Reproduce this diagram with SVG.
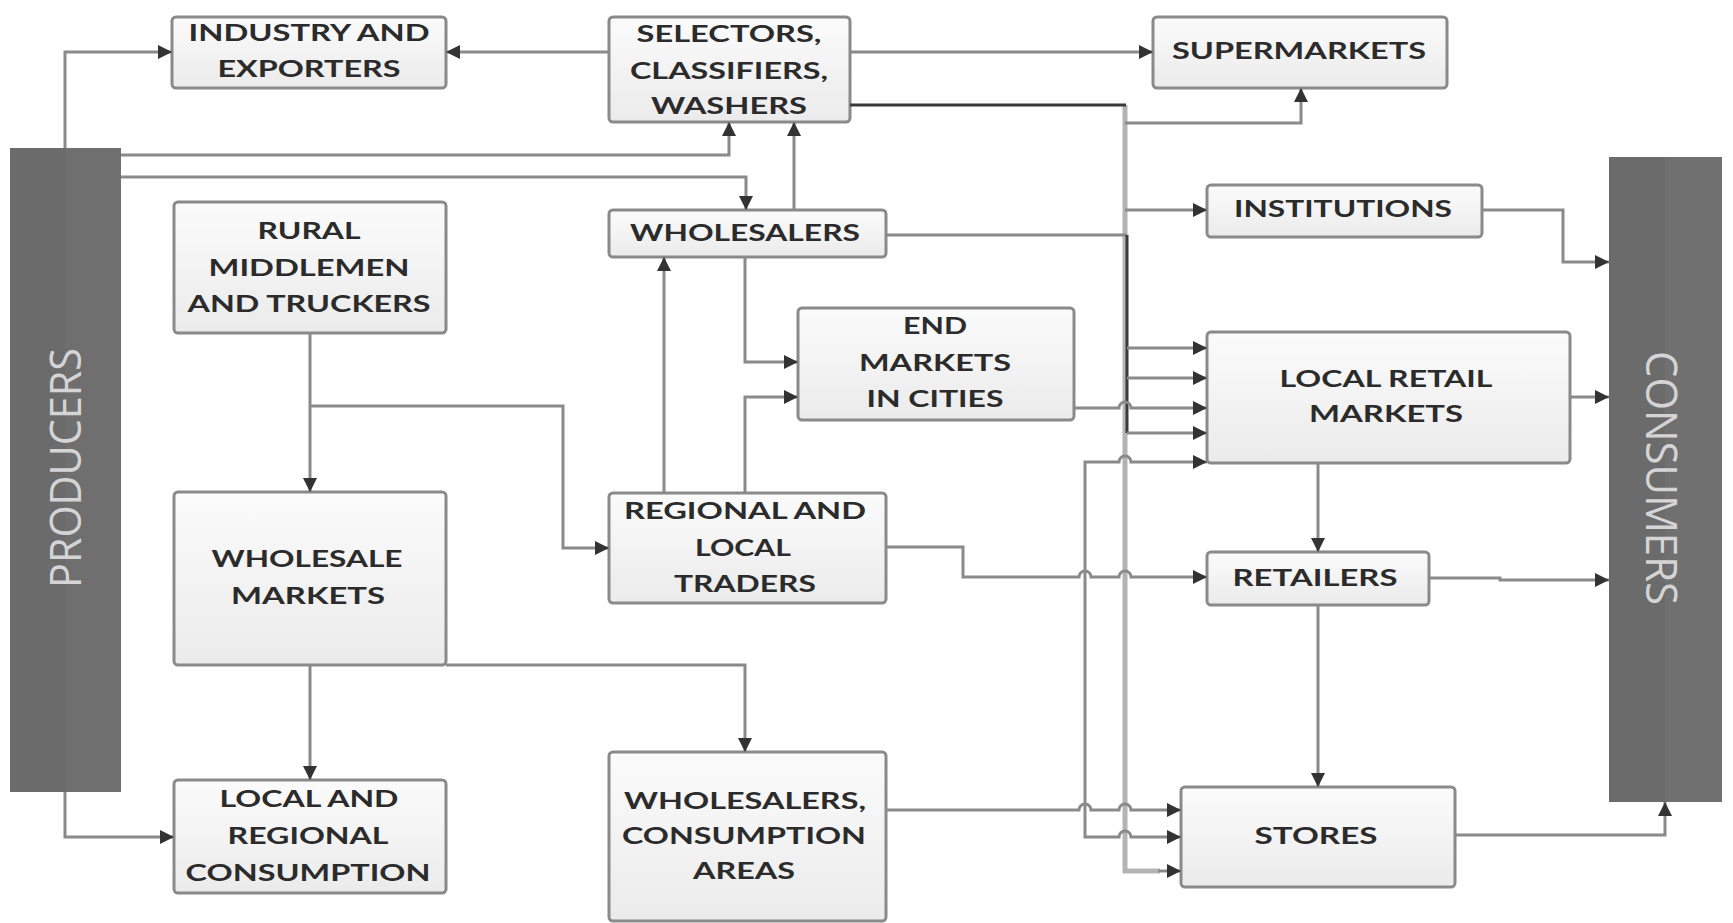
<svg xmlns="http://www.w3.org/2000/svg" width="1733" height="923" viewBox="0 0 1733 923">
<defs>
<linearGradient id="boxg" x1="0" y1="0" x2="0" y2="1">
<stop offset="0" stop-color="#fbfbfb"/>
<stop offset="1" stop-color="#ebebeb"/>
</linearGradient>
<marker id="arr" viewBox="0 0 10 10" refX="10" refY="5" markerWidth="17" markerHeight="14" markerUnits="userSpaceOnUse" orient="auto">
<path d="M0,0 L10,5 L0,10 z" fill="#333"/>
</marker>
<style>
.box{fill:url(#boxg);stroke:#8a8a8a;stroke-width:3}
.t{font-family:Lato,'Liberation Sans',sans-serif;font-weight:700;font-size:22px;fill:#2b2b2b;text-anchor:middle}
.bar{fill:#6b6b6b}
.bar2{fill:#777777}
.bt{font-family:'Open Sans','Liberation Sans',sans-serif;font-size:44px;fill:#d4d4d4;text-anchor:middle}
.c{fill:none;stroke:#8a8a8a;stroke-width:3}
.cd{fill:none;stroke:#3a3a3a;stroke-width:3}
.trunk{fill:none;stroke:#b4b4b4;stroke-width:5}
.a{marker-end:url(#arr)}
</style>
</defs>
<rect width="1733" height="923" fill="#ffffff"/>

<g id="producers">
<rect class="bar" x="10" y="148" width="111" height="644"/>
<rect class="bar2" x="65" y="148" width="56" height="644" opacity="0.35"/>
<text class="bt" transform="translate(81,468) rotate(-90)" textLength="240" lengthAdjust="spacingAndGlyphs">PRODUCERS</text>
</g>
<g id="consumers">
<rect class="bar" x="1609" y="157" width="113" height="645"/>
<rect class="bar2" x="1665" y="157" width="57" height="645" opacity="0.45"/>
<text class="bt" transform="translate(1646,478) rotate(90)" textLength="254" lengthAdjust="spacingAndGlyphs">CONSUMERS</text>
</g>

<g id="industry">
<rect class="box" x="172" y="17" width="274" height="71" rx="4"/>
<text class="t" x="309" y="41" textLength="241" lengthAdjust="spacingAndGlyphs">INDUSTRY AND</text>
<text class="t" x="309" y="77" textLength="183" lengthAdjust="spacingAndGlyphs">EXPORTERS</text>
</g>
<g id="selectors">
<rect class="box" x="609" y="17" width="241" height="105" rx="4"/>
<text class="t" x="729" y="42" textLength="185" lengthAdjust="spacingAndGlyphs">SELECTORS,</text>
<text class="t" x="729" y="79" textLength="198" lengthAdjust="spacingAndGlyphs">CLASSIFIERS,</text>
<text class="t" x="729" y="114" textLength="156" lengthAdjust="spacingAndGlyphs">WASHERS</text>
</g>
<g id="supermarkets">
<rect class="box" x="1153" y="17" width="294" height="71" rx="4"/>
<text class="t" x="1299" y="59" textLength="254" lengthAdjust="spacingAndGlyphs">SUPERMARKETS</text>
</g>
<g id="rural">
<rect class="box" x="174" y="202" width="272" height="131" rx="4"/>
<text class="t" x="309" y="239" textLength="103" lengthAdjust="spacingAndGlyphs">RURAL</text>
<text class="t" x="309" y="276" textLength="201" lengthAdjust="spacingAndGlyphs">MIDDLEMEN</text>
<text class="t" x="309" y="312" textLength="243" lengthAdjust="spacingAndGlyphs">AND TRUCKERS</text>
</g>
<g id="wholesalers">
<rect class="box" x="609" y="210" width="277" height="47" rx="4"/>
<text class="t" x="745" y="241" textLength="230" lengthAdjust="spacingAndGlyphs">WHOLESALERS</text>
</g>
<g id="institutions">
<rect class="box" x="1207" y="185" width="275" height="52" rx="4"/>
<text class="t" x="1343" y="217" textLength="218" lengthAdjust="spacingAndGlyphs">INSTITUTIONS</text>
</g>
<g id="endmarkets">
<rect class="box" x="798" y="308" width="276" height="112" rx="4"/>
<text class="t" x="935" y="334" textLength="64" lengthAdjust="spacingAndGlyphs">END</text>
<text class="t" x="935" y="371" textLength="152" lengthAdjust="spacingAndGlyphs">MARKETS</text>
<text class="t" x="935" y="407" textLength="137" lengthAdjust="spacingAndGlyphs">IN CITIES</text>
</g>
<g id="localretail">
<rect class="box" x="1207" y="332" width="363" height="131" rx="4"/>
<text class="t" x="1386" y="387" textLength="213" lengthAdjust="spacingAndGlyphs">LOCAL RETAIL</text>
<text class="t" x="1386" y="422" textLength="154" lengthAdjust="spacingAndGlyphs">MARKETS</text>
</g>
<g id="wholesalemarkets">
<rect class="box" x="174" y="492" width="272" height="173" rx="4"/>
<text class="t" x="307" y="567" textLength="191" lengthAdjust="spacingAndGlyphs">WHOLESALE</text>
<text class="t" x="308" y="604" textLength="154" lengthAdjust="spacingAndGlyphs">MARKETS</text>
</g>
<g id="traders">
<rect class="box" x="609" y="493" width="277" height="110" rx="4"/>
<text class="t" x="745" y="519" textLength="242" lengthAdjust="spacingAndGlyphs">REGIONAL AND</text>
<text class="t" x="743" y="556" textLength="96" lengthAdjust="spacingAndGlyphs">LOCAL</text>
<text class="t" x="745" y="592" textLength="142" lengthAdjust="spacingAndGlyphs">TRADERS</text>
</g>
<g id="retailers">
<rect class="box" x="1207" y="552" width="222" height="53" rx="4"/>
<text class="t" x="1315" y="586" textLength="165" lengthAdjust="spacingAndGlyphs">RETAILERS</text>
</g>
<g id="localregional">
<rect class="box" x="174" y="780" width="272" height="113" rx="4"/>
<text class="t" x="309" y="807" textLength="179" lengthAdjust="spacingAndGlyphs">LOCAL AND</text>
<text class="t" x="308" y="844" textLength="161" lengthAdjust="spacingAndGlyphs">REGIONAL</text>
<text class="t" x="308" y="881" textLength="245" lengthAdjust="spacingAndGlyphs">CONSUMPTION</text>
</g>
<g id="wholesalersca">
<rect class="box" x="609" y="752" width="277" height="169" rx="4"/>
<text class="t" x="745" y="809" textLength="242" lengthAdjust="spacingAndGlyphs">WHOLESALERS,</text>
<text class="t" x="744" y="844" textLength="244" lengthAdjust="spacingAndGlyphs">CONSUMPTION</text>
<text class="t" x="744" y="879" textLength="102" lengthAdjust="spacingAndGlyphs">AREAS</text>
</g>
<g id="stores">
<rect class="box" x="1181" y="787" width="274" height="100" rx="4"/>
<text class="t" x="1316" y="844" textLength="123" lengthAdjust="spacingAndGlyphs">STORES</text>
</g>

<g id="connectors">
<path class="c a" d="M65,148 V52 H172"/>
<path class="c a" d="M609,52 H446"/>
<path class="c a" d="M850,52 H1153"/>
<path class="c a" d="M121,155 H729 V122"/>
<path class="c a" d="M121,177 H746 V210"/>
<path class="c a" d="M794,210 V122"/>
<path class="c a" d="M664,493 V257"/>
<path class="c a" d="M745,257 V362 H798"/>
<path class="c a" d="M745,493 V397 H798"/>
<path class="c a" d="M310,333 V492"/>
<path class="c a" d="M310,406 H563 V548 H609"/>
<path class="c a" d="M310,665 V780"/>
<path class="c a" d="M446,665 H745 V752"/>
<path class="c a" d="M65,792 V837 H174"/>
<path class="trunk" d="M1125,105 V871 H1160"/>
<path class="c a" d="M1158,871 H1181"/>
<path class="cd" d="M850,105 H1126"/>
<path class="c a" d="M1125,123 H1301 V88"/>
<path class="c a" d="M1125,210 H1207"/>
<path class="c" d="M886,235 H1127"/>
<path class="cd" d="M1127,235 V433"/>
<path class="c a" d="M1127,348 H1207"/>
<path class="c a" d="M1127,378 H1207"/>
<path class="c a" d="M1127,433 H1207"/>
<path class="c a" d="M1074,408 H1119 a6,6 0 0 1 12,0 H1207"/>
<path class="c a" d="M1085,650 V462 H1119 a6,6 0 0 1 12,0 H1207"/>
<path class="c a" d="M1085,650 V837 H1119 a6,6 0 0 1 12,0 H1181"/>
<path class="c a" d="M886,547 H963 V577 H1079 a6,6 0 0 1 12,0 H1119 a6,6 0 0 1 12,0 H1207"/>
<path class="c a" d="M886,810 H1079 a6,6 0 0 1 12,0 H1119 a6,6 0 0 1 12,0 H1181"/>
<path class="c a" d="M1570,397 H1609"/>
<path class="c a" d="M1318,463 V552"/>
<path class="c a" d="M1429,578 H1500 V580 H1609"/>
<path class="c a" d="M1318,605 V787"/>
<path class="c a" d="M1482,210 H1563 V262 H1609"/>
<path class="c a" d="M1455,835 H1665 V802"/>
</g>
</svg>
